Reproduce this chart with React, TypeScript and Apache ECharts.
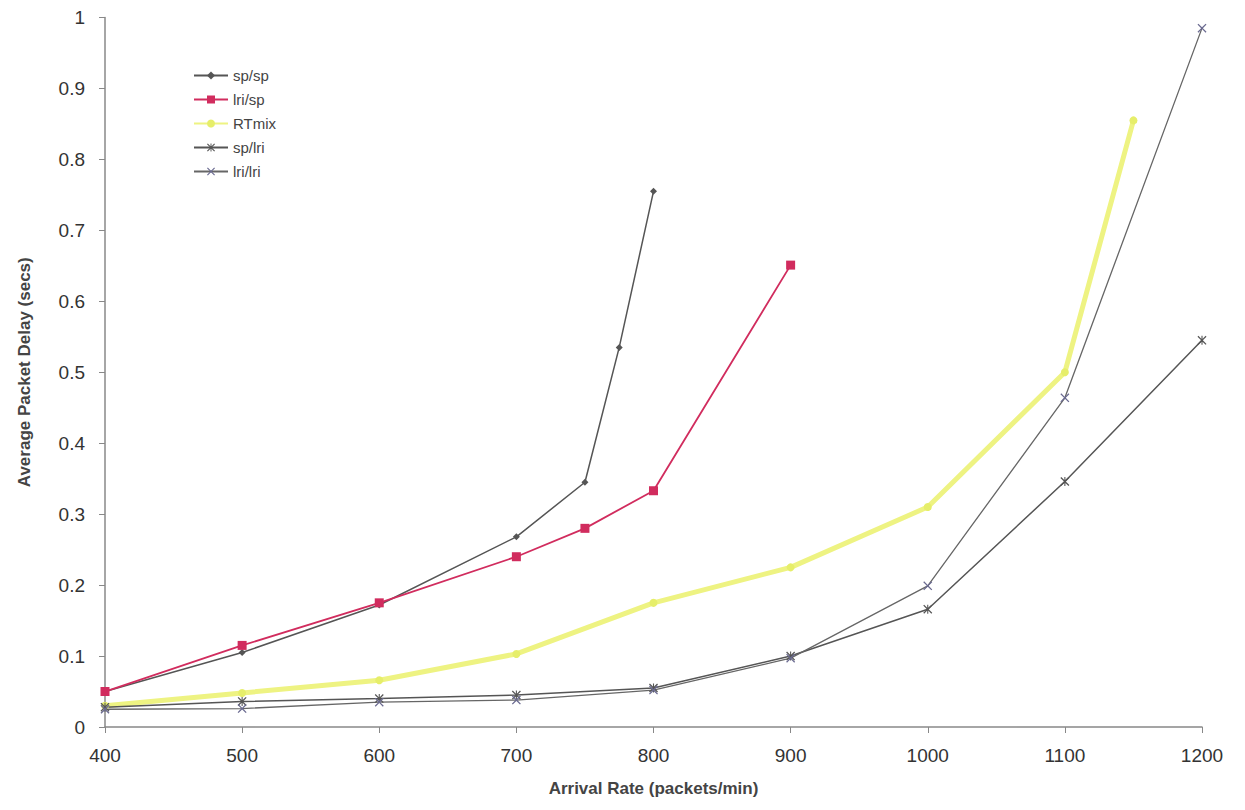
import React, { useEffect, useRef } from "react";
import * as echarts from "echarts";

const xTicks = [400, 500, 600, 700, 800, 900, 1000, 1100, 1200];
const spspX = [400, 500, 600, 700, 750, 775, 800];
const spspY = [0.05, 0.105, 0.172, 0.268, 0.345, 0.535, 0.755];
const lrispX = [400, 500, 600, 700, 750, 800, 900];
const lrispY = [0.05, 0.115, 0.175, 0.24, 0.28, 0.333, 0.651];
const rtmixX = [400, 500, 600, 700, 800, 900, 1000, 1100, 1150];
const rtmixY = [0.03, 0.048, 0.066, 0.103, 0.175, 0.225, 0.31, 0.5, 0.855];
const splriX = [400, 500, 600, 700, 800, 900, 1000, 1100, 1200];
const splriY = [0.028, 0.036, 0.04, 0.045, 0.055, 0.1, 0.166, 0.346, 0.545];
const lrilriX = [400, 500, 600, 700, 800, 900, 1000, 1100, 1200];
const lrilriY = [0.025, 0.026, 0.035, 0.038, 0.052, 0.097, 0.199, 0.464, 0.985];

const zip = (xs: number[], ys: number[]) => xs.map((x, i) => [x, ys[i]]);

const xSym = "path://M1,0 L5,4 L9,0 L10,1 L6,5 L10,9 L9,10 L5,6 L1,10 L0,9 L4,5 L0,1 Z";
const starSym =
  "path://M1,0 L5,4 L9,0 L10,1 L6,5 L10,9 L9,10 L5,6 L1,10 L0,9 L4,5 L0,1 Z M4.4,0 L5.6,0 L5.6,10 L4.4,10 Z";

export default function App() {
  const ref = useRef<HTMLDivElement>(null);
  useEffect(() => {
    const chart = echarts.init(ref.current!, null, { renderer: "svg" });
    const font = "'Liberation Sans', Arial, Helvetica, sans-serif";
    chart.setOption({
      animation: false,
      backgroundColor: "#fff",
      textStyle: { fontFamily: font },
      grid: { left: 90, right: 35, top: 9, bottom: 69 },
      legend: {
        orient: "vertical",
        left: 180,
        top: 55,
        itemGap: 9,
        itemWidth: 34,
        itemHeight: 10,
        textStyle: { fontSize: 15, color: "#444", fontFamily: font },
        data: ["sp/sp", "lri/sp", "RTmix", "sp/lri", "lri/lri"],
      },
      xAxis: {
        type: "value",
        min: 400,
        max: 1200,
        interval: 100,
        name: "Arrival Rate (packets/min)",
        nameLocation: "middle",
        nameGap: 53,
        nameTextStyle: { fontSize: 17, fontWeight: "bold", color: "#444" },
        splitLine: { show: false },
        axisLine: { lineStyle: { color: "#888", width: 1.5 } },
        axisTick: { show: true, length: 6, lineStyle: { color: "#888" } },
        axisLabel: {
          fontSize: 19,
          color: "#333",
          margin: 19,
          formatter: (v: number) => String(v),
        },
      },
      yAxis: {
        type: "value",
        min: 0,
        max: 1,
        interval: 0.1,
        name: "Average Packet Delay (secs)",
        nameLocation: "middle",
        nameGap: 72,
        nameTextStyle: { fontSize: 17, fontWeight: "bold", color: "#444" },
        splitLine: { show: false },
        axisLine: { show: true, lineStyle: { color: "#888", width: 1.5 } },
        axisTick: { show: true, length: 6, lineStyle: { color: "#888" } },
        axisLabel: {
          fontSize: 19,
          color: "#333",
          margin: 20,
          formatter: (v: number) => String(Math.round(v * 10) / 10),
        },
      },
      series: [
        {
          name: "sp/sp",
          type: "line",
          data: zip(spspX, spspY),
          symbol: "diamond",
          symbolSize: 7,
          lineStyle: { color: "#555", width: 1.5 },
          itemStyle: { color: "#555" },
        },
        {
          name: "lri/sp",
          type: "line",
          data: zip(lrispX, lrispY),
          symbol: "rect",
          symbolSize: 9,
          lineStyle: { color: "#d12c5e", width: 1.8 },
          itemStyle: { color: "#d12c5e" },
        },
        {
          name: "RTmix",
          type: "line",
          data: zip(rtmixX, rtmixY),
          symbol: "circle",
          symbolSize: 8,
          lineStyle: { color: "#eef382", width: 5 },
          itemStyle: { color: "#e6ee6a" },
        },
        {
          name: "sp/lri",
          type: "line",
          data: zip(splriX, splriY),
          symbol: starSym,
          symbolSize: 9,
          lineStyle: { color: "#555", width: 1.5 },
          itemStyle: { color: "#555" },
        },
        {
          name: "lri/lri",
          type: "line",
          data: zip(lrilriX, lrilriY),
          symbol: xSym,
          symbolSize: 9,
          lineStyle: { color: "#666", width: 1.3 },
          itemStyle: { color: "#6a6a90" },
        },
      ],
    });
    return () => chart.dispose();
  }, []);
  return <div ref={ref} style={{ width: 1229, height: 794 }} />;
}
